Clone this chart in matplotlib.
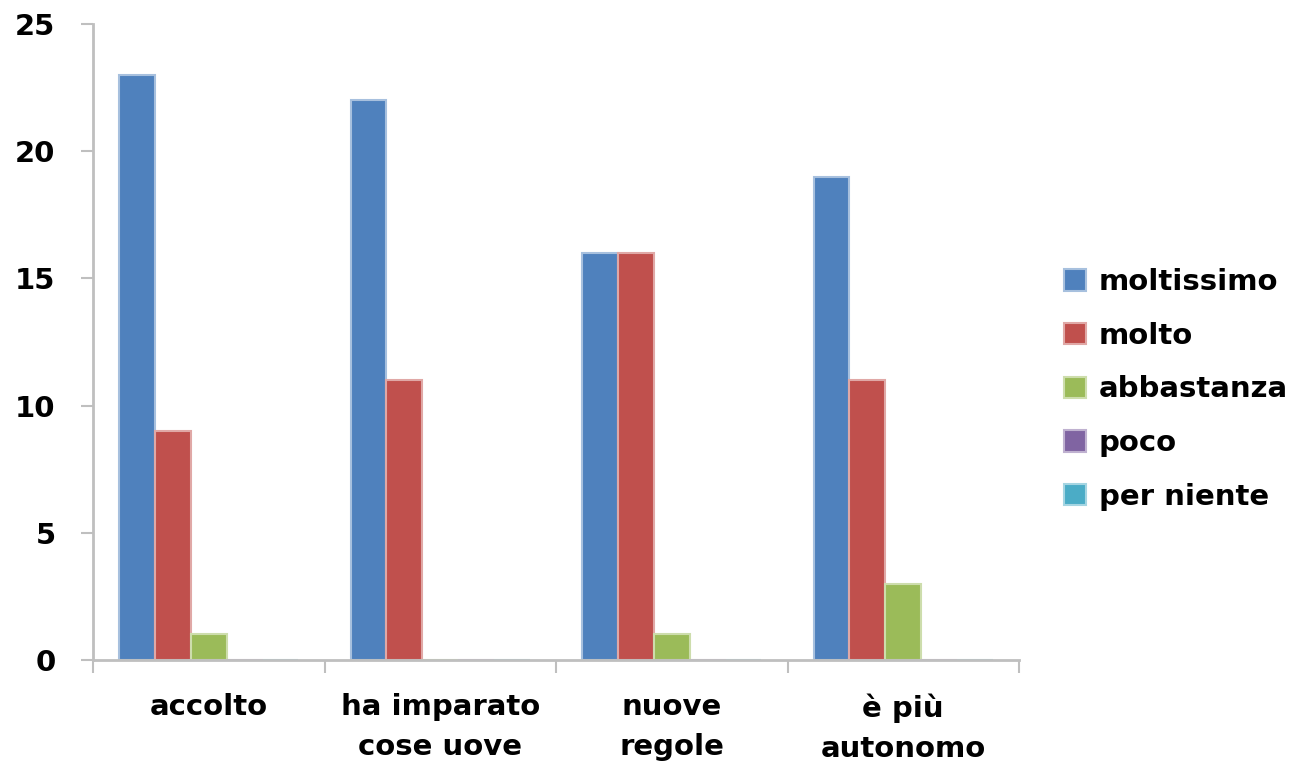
import matplotlib
matplotlib.use("Agg")
import matplotlib.pyplot as plt
import numpy as np

categories = ["accolto", "ha imparato\ncose uove", "nuove\nregole", "è più\nautonomo"]
series_names = ["moltissimo", "molto", "abbastanza", "poco", "per niente"]
moltissimo = [23, 22, 16, 19]
molto = [9, 11, 16, 11]
abbastanza = [1, 0, 1, 3]
poco = [0, 0, 0, 0]
per_niente = [0, 0, 0, 0]

colors = ["#4F81BD", "#C0504D", "#9BBB59", "#8064A2", "#4BACC6"]
edge_colors = ["#A7C0DE", "#E0A8A6", "#CDDDAC", "#BFB1D0", "#A5D5E2"]

plt.rcParams["font.family"] = ["DejaVu Sans"]
plt.rcParams["font.weight"] = "bold"

fig = plt.figure(figsize=(12.97, 7.62), dpi=100)
ax = fig.add_axes([0.0717, 0.134, 0.714, 0.8345])

x = np.arange(len(categories))
bar_w = 0.155
all_series = [moltissimo, molto, abbastanza, poco, per_niente]
for i, (vals, name) in enumerate(zip(all_series, series_names)):
    ax.bar(x + (i - 2) * bar_w, vals, width=bar_w, color=colors[i],
           edgecolor=edge_colors[i], linewidth=1.5, label=name, zorder=2)

ax.set_xlim(-0.5, len(categories) - 0.5)
ax.set_ylim(0, 25)
ax.set_yticks(range(0, 26, 5))

# tick marks on the category boundaries, labels in the middle
ax.set_xticks(np.arange(-0.5, len(categories), 1.0))
ax.set_xticklabels([])
ax.set_xticks(x, minor=True)
ax.set_xticklabels(categories, minor=True, fontsize=21, fontweight="bold",
                   linespacing=1.55, va="top")
ax.tick_params(axis="x", which="minor", length=0, pad=24)
ax.tick_params(axis="x", which="major", length=9, width=1.5, color="#BFBFBF")
ax.tick_params(axis="y", length=9, width=1.5, color="#BFBFBF", pad=18,
               labelsize=21)
for lbl in ax.get_yticklabels():
    lbl.set_fontweight("bold")

for side in ["top", "right"]:
    ax.spines[side].set_visible(False)
for side in ["left", "bottom"]:
    ax.spines[side].set_color("#BFBFBF")
    ax.spines[side].set_linewidth(2)

fig.legend(loc="center left", bbox_to_anchor=(0.8, 0.489), frameon=False,
           prop={"size": 21, "weight": "bold"}, handlelength=0.75,
           handleheight=0.75, handletextpad=0.45, labelspacing=0.88)

fig.savefig("out.png", dpi=100)
